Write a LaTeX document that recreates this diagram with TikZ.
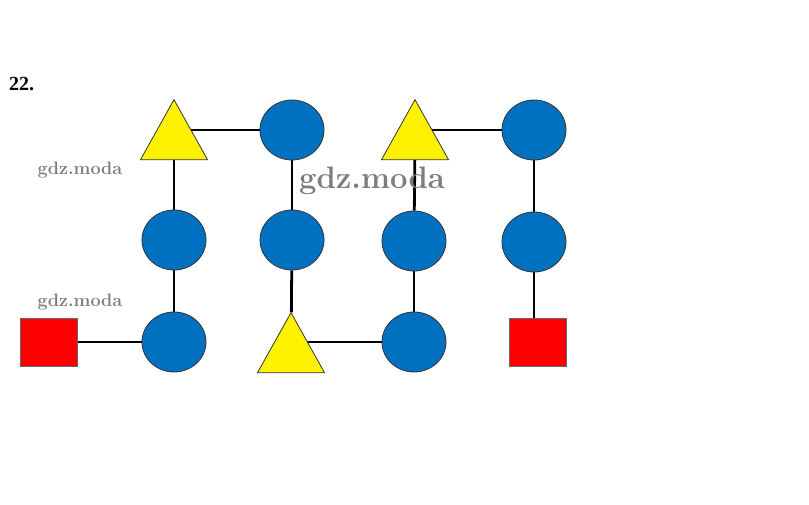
\documentclass[tikz,border=0pt]{standalone}
\usepackage{fontspec}
\setmainfont{Liberation Serif}
\newfontfamily\wmfont{Latin Modern Roman}
\usetikzlibrary{shapes.geometric,backgrounds}
\definecolor{cblue}{RGB}{0,112,192}
\definecolor{wm}{RGB}{125,125,125}
\begin{document}
\begin{tikzpicture}[x=1pt,y=-1pt,
  circ/.style={ellipse,draw=black!80,line width=0.8pt,fill=cblue,minimum width=64pt,minimum height=60pt,inner sep=0pt},
  tri/.style={isosceles triangle,isosceles triangle stretches,shape border rotate=90,draw=black!80,line width=0.8pt,fill=yellow,minimum width=67pt,minimum height=60pt,inner sep=0pt},
  sq/.style={rectangle,draw=black!60,line width=0.5pt,fill=red,minimum width=57pt,minimum height=48pt,inner sep=0pt},
  link/.style={line width=2.8pt,black},
  wmark/.style={text=wm,inner sep=0pt}
]
\useasboundingbox (0,0) rectangle (809,505);
\node[anchor=west,font=\bfseries\fontsize{20}{22}\selectfont,inner sep=0pt] (num) at (9,84) {22.};
% top row (triangle node centres sit at two thirds of their height)
\node[tri] (t1) at (174,140) {};
\node[circ] (a1) at (292,130) {};
\node[tri] (t2) at (415,140) {};
\node[circ] (a2) at (534,130) {};
% middle row
\node[circ] (b1) at (174,240) {};
\node[circ] (b2) at (292,240) {};
\node[circ] (b3) at (414,241) {};
\node[circ] (b4) at (534,242) {};
% bottom row
\node[sq] (s1) at (49,342) {};
\node[circ] (c1) at (174,342) {};
\node[tri] (t3) at (291,353) {};
\node[circ] (c2) at (414,342) {};
\node[sq] (s2) at (537.5,342) {};
% connectors
\begin{pgfonlayer}{background}
\draw[link] (t1.center |- a1.center) -- (a1);
\draw[link] (t2.center |- a2.center) -- (a2);
\draw[link] (t1) -- (b1);
\draw[link] (a1) -- (b2);
\draw[link] (t2) -- (b3);
\draw[link] (a2) -- (b4);
\draw[link] (b1) -- (c1);
\draw[link] (b2) -- (t3);
\draw[link] (b3) -- (c2);
\draw[link] (b4) -- (b4 |- s2.north);
\draw[link] (s1) -- (c1);
\draw[link] (t3.center |- c2.center) -- (c2);
\end{pgfonlayer}
% watermarks
\node[wmark,font=\wmfont\bfseries\fontsize{18}{19}\selectfont] (w1) at (80,170) {gdz.moda};
\node[wmark,font=\wmfont\bfseries\fontsize{18}{19}\selectfont] (w2) at (80,302) {gdz.moda};
\node[wmark,font=\wmfont\bfseries\fontsize{31}{32}\selectfont] (w3) at (372,181) {gdz.moda};
\end{tikzpicture}
\end{document}
